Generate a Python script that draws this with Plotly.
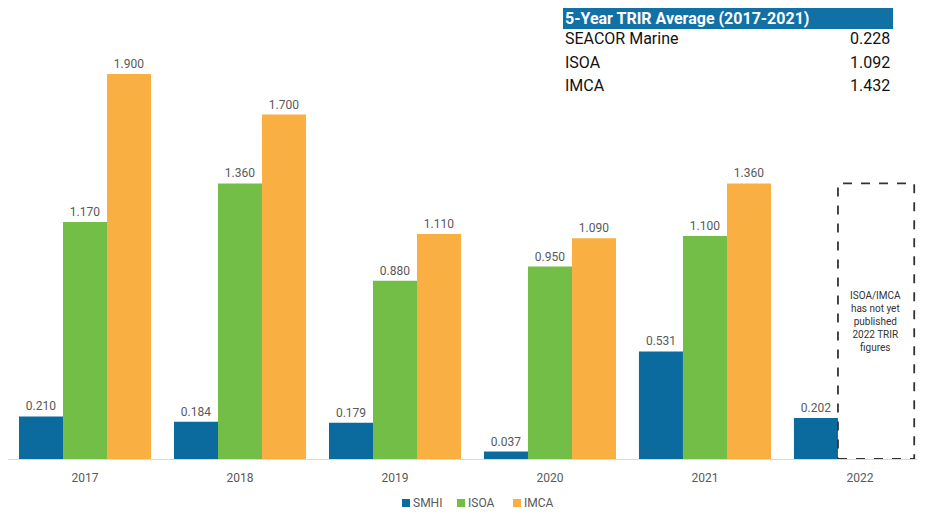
import plotly.graph_objects as go

years = ["2017", "2018", "2019", "2020", "2021", "2022"]
smhi = [0.210, 0.184, 0.179, 0.037, 0.531, 0.202]
isoa = [1.170, 1.360, 0.880, 0.950, 1.100, None]
imca = [1.900, 1.700, 1.110, 1.090, 1.360, None]

avg_names = ["SEACOR Marine", "ISOA", "IMCA"]
avg_values = [0.228, 1.092, 1.432]

colors = {"SMHI": "#0B6A9E", "ISOA": "#72BE46", "IMCA": "#F9AF41"}
FONT = "Roboto, Arial, sans-serif"
label_font = dict(family=FONT, size=12, color="#595959")


def px(x):  # page pixel -> paper x
    return (x - 8) / 909


def py(y):  # page pixel -> paper y
    return (459 - y) / 449


fig = go.Figure()
for name, vals in [("SMHI", smhi), ("ISOA", isoa), ("IMCA", imca)]:
    fig.add_trace(go.Bar(
        name=name, x=years, y=vals,
        marker=dict(color=colors[name], line=dict(width=0)),
        text=[None if v is None else f"{v:.3f}" for v in vals],
        textposition="outside",
        textfont=label_font,
        cliponaxis=False,
        showlegend=False,
    ))

# dashed placeholder box for 2022
fig.add_shape(type="rect", xref="x", yref="y",
              x0=4.858, x1=5.35, y0=0, y1=1.36,
              line=dict(color="#333333", width=1.8, dash="dash"))
fig.add_annotation(xref="x", yref="y", x=5.1, y=0.68,
                   text="ISOA/IMCA<br>has not yet<br>published<br>2022 TRIR<br>figures",
                   showarrow=False, align="center",
                   font=dict(family=FONT, size=10, color="#333333"))

# 5-year average table (top right)
fig.add_shape(type="rect", xref="paper", yref="paper",
              x0=px(563), x1=px(893), y0=py(29), y1=py(8),
              fillcolor="#1170A6", line=dict(width=0), layer="above")
fig.add_annotation(xref="paper", yref="paper", x=px(563), y=py(18.5),
                   xanchor="left", yanchor="middle", showarrow=False,
                   text="<b>5-Year TRIR Average (2017-2021)</b>",
                   font=dict(family=FONT, size=16, color="white"))
for nm, val, ry in zip(avg_names, avg_values, [39, 62, 85]):
    fig.add_annotation(xref="paper", yref="paper", x=px(563), y=py(ry),
                       xanchor="left", yanchor="middle", showarrow=False,
                       text=nm, font=dict(family=FONT, size=16, color="#111111"))
    fig.add_annotation(xref="paper", yref="paper", x=px(892), y=py(ry),
                       xanchor="right", yanchor="middle", showarrow=False,
                       text=f"{val:.3f}", font=dict(family=FONT, size=16, color="#111111"))

# legend: small squares plus labels
for n, sx in zip(["SMHI", "ISOA", "IMCA"], [402, 457, 513]):
    fig.add_shape(type="rect", xref="paper", yref="paper",
                  x0=px(sx), x1=px(sx + 8), y0=py(507), y1=py(499),
                  fillcolor=colors[n], line=dict(width=0))
    fig.add_annotation(xref="paper", yref="paper", x=px(sx + 9), y=py(503),
                       xanchor="left", yanchor="middle", showarrow=False,
                       text=n, font=dict(family=FONT, size=12, color="#595959"))

# page body has an 8px margin, so the figure is sized to fit without scrollbars
fig.update_layout(
    width=909, height=502,
    margin=dict(l=0, r=0, t=2, b=51, autoexpand=False),
    paper_bgcolor="white", plot_bgcolor="white",
    barmode="group", bargap=0.148, bargroupgap=0,
    showlegend=False,
    xaxis=dict(type="category", range=[-0.497, 5.368], showgrid=False,
               showline=True, linecolor="#D9D9D9", linewidth=1, ticks="",
               tickfont=label_font, ticklabelstandoff=8, automargin=False),
    yaxis=dict(range=[0, 2.216], visible=False, showgrid=False, zeroline=False),
)

fig.write_html("out.html")
